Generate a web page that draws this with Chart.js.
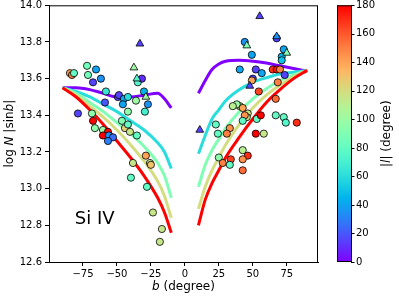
<!DOCTYPE html>
<html>
<head>
<meta charset="utf-8">
<script src="https://cdn.jsdelivr.net/npm/chart.js@4"></script>
<style>
  body { margin: 0; background: #fff; }
  #c { display: block; }
</style>
</head>
<body>
<canvas id="c" width="399" height="298"></canvas>
<script>
// axis ticks
const xTicks = [-75, -50, -25, 0, 25, 50, 75];
const cbTicks = [0, 20, 40, 60, 80, 100, 120, 140, 160, 180];
const ionLabel = "Si IV";

// model curves, one per |l|
const curveL = [0, 60, 90, 120, 180];
const leftB = [-90, -80, -70, -60, -50, -40, -30, -20, -15, -10];
const rightB = [10, 15, 20, 25, 30, 40, 50, 60, 70, 80, 90];
const leftN = [
  [13.55, 13.55, 13.54, 13.52, 13.50, 13.50, 13.51, 13.52, 13.49, 13.44],
  [13.55, 13.53, 13.50, 13.46, 13.42, 13.37, 13.32, 13.25, 13.20, 13.11],
  [13.55, 13.52, 13.47, 13.42, 13.36, 13.30, 13.23, 13.14, 13.07, 12.95],
  [13.55, 13.51, 13.45, 13.39, 13.32, 13.24, 13.15, 13.04, 12.96, 12.84],
  [13.55, 13.50, 13.43, 13.35, 13.26, 13.17, 13.07, 12.95, 12.87, 12.76],
];
const rightN = [
  [13.52, 13.59, 13.65, 13.68, 13.695, 13.70, 13.695, 13.685, 13.67, 13.655, 13.64],
  [13.19, 13.29, 13.38, 13.43, 13.48, 13.54, 13.58, 13.605, 13.625, 13.635, 13.645],
  [13.01, 13.13, 13.21, 13.27, 13.33, 13.42, 13.49, 13.545, 13.59, 13.62, 13.645],
  [12.89, 13.01, 13.10, 13.17, 13.24, 13.35, 13.44, 13.51, 13.565, 13.61, 13.645],
  [12.80, 12.94, 13.03, 13.10, 13.17, 13.28, 13.38, 13.47, 13.54, 13.60, 13.645],
];

// sightlines (circles)
const circB = [
  -84.6, -83.1, -81.6, -72.0, -65.4, -71.3, -61.8, -67.6, -58.1, -58.8,
  -49.3, -48.5, -44.9, -41.9, -45.6, -41.9, -36.0, -78.7, -68.4, -67.6,
  -66.2, -60.3, -56.6, -60.3, -55.9, -52.9, -56.6, -34.6, -31.6, -30.1,
  -27.2, -29.4, -46.3, -44.1, -41.9, -40.4, -35.3, -28.7, -38.2, -25.7,
  -25.0, -39.7, -27.9, -23.5, -16.9, -18.4,
  44.1, 49.3, 72.8, 71.3, 71.3, 40.4, 52.2, 56.6, 50.0, 49.3,
  54.4, 64.7, 67.6, 70.0, 68.4, 66.9, 40.4, 38.2, 42.6, 46.3,
  45.6, 52.9, 55.9, 66.9, 72.8, 74.3, 82.4, 52.2, 58.1, 33.1,
  30.9, 22.8, 24.3, 42.6, 46.3, 42.6, 33.8, 25.0, 27.9, 33.1,
  42.6, 44.1, 42.6, 35.3, 67.6, 73.5
];
const circN = [
  13.63, 13.62, 13.63, 13.67, 13.65, 13.62, 13.60, 13.58, 13.53, 13.47,
  13.50, 13.51, 13.49, 13.50, 13.46, 13.42, 13.48, 13.41, 13.41, 13.37,
  13.33, 13.32, 13.31, 13.29, 13.29, 13.28, 13.26, 13.58, 13.60, 13.53,
  13.46, 13.42, 13.37, 13.33, 13.35, 13.31, 13.29, 13.18, 13.14, 13.14,
  13.13, 13.06, 13.01, 12.87, 12.78, 12.71,
  13.80, 13.73, 13.76, 13.72, 13.70, 13.65, 13.65, 13.63, 13.60, 13.59,
  13.53, 13.65, 13.65, 13.65, 13.58, 13.49, 13.45, 13.46, 13.44, 13.41,
  13.39, 13.38, 13.40, 13.40, 13.39, 13.36, 13.36, 13.30, 13.30, 13.33,
  13.30, 13.35, 13.30, 13.21, 13.18, 13.16, 13.16, 13.17, 13.14, 13.13,
  13.10, 13.40, 13.37, 13.45, 13.82, 13.62
];
const circL = [
  140, 150, 80, 85, 40, 85, 35, 15, 65, 20,
  15, 15, 40, 60, 40, 95, 100, 15, 95, 180,
  95, 100, 180, 180, 35, 25, 30, 75, 10, 45,
  35, 70, 90, 125, 80, 115, 80, 140, 115, 115,
  130, 80, 80, 115, 115, 115,
  35, 40, 40, 45, 50, 40, 15, 40, 15, 140,
  165, 170, 175, 150, 150, 155, 110, 100, 140, 115,
  115, 80, 180, 80, 80, 75, 170, 180, 115, 145,
  150, 80, 80, 110, 170, 145, 165, 95, 150, 80,
  155, 145, 80, 110, 15, 15
];

// sightlines (triangles)
const triB = [-33.1, -37.5, -35.3, -28.7, 55.1, 67.6, 45.6, 75.0, 47.8, 11.0];
const triN = [13.79, 13.66, 13.60, 13.50, 13.94, 13.83, 13.78, 13.74, 13.56, 13.32];
const triL = [15, 100, 75, 100, 15, 35, 90, 90, 15, 15];

// matplotlib "rainbow" colormap
function rainbow(t) {
  const r = Math.min(1, Math.abs(2 * t - 0.5));
  const g = Math.sin(Math.PI * t);
  const b = Math.cos(Math.PI * t / 2);
  return `rgb(${Math.round(r * 255)},${Math.round(g * 255)},${Math.round(b * 255)})`;
}
const lColor = (l) => rainbow(l / 180);

const datasets = [];
datasets.push({
  label: "circles",
  data: circB.map((b, i) => ({ x: b, y: circN[i] })),
  pointRadius: 3.6,
  pointBorderWidth: 0.8,
  pointBorderColor: "#000",
  pointBackgroundColor: circL.map(lColor),
  order: 0,
});
datasets.push({
  label: "triangles",
  data: triB.map((b, i) => ({ x: b, y: triN[i] })),
  pointStyle: "triangle",
  pointRadius: 4.5,
  pointBorderWidth: 0.8,
  pointBorderColor: "#000",
  pointBackgroundColor: triL.map(lColor),
  order: -1,
});
curveL.forEach((l, k) => {
  [[leftB, leftN[k]], [rightB, rightN[k]]].forEach(([bs, ns]) => {
    datasets.push({
      label: "l" + l,
      data: bs.map((b, i) => ({ x: b, y: ns[i] })),
      showLine: true,
      pointRadius: 0,
      borderColor: lColor(l),
      borderWidth: 3,
      cubicInterpolationMode: "monotone",
      order: 10 - k,
    });
  });
});

function drawRich(ctx, parts, x, y, size) {
  const fontOf = (it) => (it ? "italic " : "") + size + "px 'DejaVu Sans'";
  let total = 0;
  parts.forEach(([t, it]) => { ctx.font = fontOf(it); total += ctx.measureText(t).width; });
  let cx = x - total / 2;
  ctx.textAlign = "left";
  ctx.textBaseline = "middle";
  parts.forEach(([t, it]) => {
    ctx.font = fontOf(it);
    ctx.fillText(t, cx, y);
    cx += ctx.measureText(t).width;
  });
}

const extras = {
  id: "extras",
  afterDraw(chart) {
    const { ctx, chartArea: a, scales } = chart;
    ctx.save();
    ctx.strokeStyle = "#000";
    ctx.lineWidth = 1;
    ctx.strokeRect(a.left + 0.5, a.top + 0.5, a.right - a.left - 1, a.bottom - a.top);

    // colour bar
    const cb = scales.cb;
    const top = cb.getPixelForValue(180), bot = cb.getPixelForValue(0);
    const x0 = a.right + 19, w = 14;
    const grad = ctx.createLinearGradient(0, bot, 0, top);
    for (let i = 0; i <= 20; i++) grad.addColorStop(i / 20, rainbow(i / 20));
    ctx.fillStyle = grad;
    ctx.fillRect(x0, top, w, bot - top);
    ctx.strokeRect(x0 + 0.5, top + 0.5, w, bot - top - 1);
    cbTicks.forEach((v) => {
      const y = Math.round(cb.getPixelForValue(v)) + 0.5;
      ctx.beginPath();
      ctx.moveTo(x0 + w, y);
      ctx.lineTo(x0 + w + 3.5, y);
      ctx.stroke();
    });

    ctx.fillStyle = "#000";
    const midY = (a.top + a.bottom) / 2;
    // axis titles
    drawRich(ctx, [["b", 1], [" (degree)", 0]], (a.left + a.right) / 2, 287, 12);
    ctx.save();
    ctx.translate(10, midY);
    ctx.rotate(-Math.PI / 2);
    drawRich(ctx, [["log ", 0], ["N", 1], [" |sin", 0], ["b", 1], ["|", 0]], 0, 0, 12);
    ctx.restore();
    ctx.save();
    ctx.translate(chart.width - 12, midY);
    ctx.rotate(-Math.PI / 2);
    drawRich(ctx, [["|", 0], ["l", 1], ["| (degree)", 0]], 0, 0, 12);
    ctx.restore();

    // ion label
    ctx.font = "18px 'DejaVu Sans'";
    ctx.textAlign = "left";
    ctx.textBaseline = "middle";
    ctx.fillText(ionLabel, scales.x.getPixelForValue(-81), scales.y.getPixelForValue(12.835));
    ctx.restore();
  },
};

Chart.defaults.font.family = "'DejaVu Sans'";
Chart.defaults.font.size = 10;
Chart.defaults.color = "#000";

new Chart(document.getElementById("c"), {
  type: "scatter",
  data: { datasets },
  options: {
    responsive: false,
    animation: false,
    devicePixelRatio: 1,
    layout: { padding: { left: 20, right: 24, top: 4, bottom: 18 } },
    plugins: { legend: { display: false }, tooltip: { enabled: false } },
    scales: {
      x: {
        type: "linear",
        min: -100,
        max: 98,
        afterBuildTicks: (axis) => { axis.ticks = xTicks.map((v) => ({ value: v })); },
        afterFit: (s) => { s.height = 18; s.paddingLeft = 0; s.paddingRight = 0; },
        ticks: { padding: 2, maxRotation: 0, callback: (v) => (v < 0 ? "\u2212" + Math.abs(v) : v) },
        grid: { drawOnChartArea: false, color: "#000", tickLength: 4 },
        border: { color: "#000" },
      },
      y: {
        type: "linear",
        position: "left",
        min: 12.6,
        max: 14.0,
        afterFit: (s) => { s.width = 29; s.paddingTop = 0; s.paddingBottom = 0; },
        ticks: { stepSize: 0.2, padding: 3, callback: (v) => v.toFixed(1) },
        grid: { drawOnChartArea: false, color: "#000", tickLength: 4 },
        border: { color: "#000" },
      },
      cb: {
        type: "linear",
        axis: "y",
        position: "right",
        min: 0,
        max: 180,
        afterBuildTicks: (axis) => { axis.ticks = cbTicks.map((v) => ({ value: v })); },
        afterFit: (s) => { s.width = 57; s.paddingTop = 0; s.paddingBottom = 0; },
        ticks: { padding: 38 },
        grid: { display: false, drawTicks: false },
        border: { display: false },
      },
    },
  },
  plugins: [extras],
});
</script>
</body>
</html>
